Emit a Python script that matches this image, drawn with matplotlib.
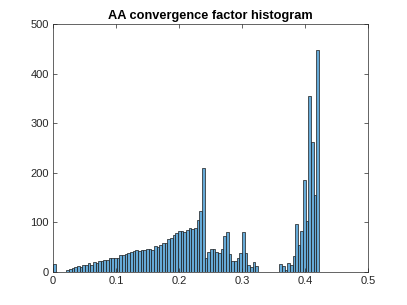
import numpy as np
import matplotlib
matplotlib.use('Agg')
import matplotlib.pyplot as plt

# histogram counts, 100 bins over [0, 0.422]
bin_width = 0.00422
counts = [
    16, 0, 0, 0, 0, 4, 7, 9, 11, 12,
    10, 14, 14, 18, 14, 20, 18, 22, 22, 24,
    24, 28, 28, 29, 28, 34, 34, 36, 38, 40,
    42, 44, 42, 44, 44, 46, 46, 44, 52, 50,
    54, 58, 58, 66, 68, 74, 78, 82, 82, 80,
    84, 88, 86, 88, 104, 124, 210, 28, 40, 46,
    46, 40, 38, 46, 72, 80, 36, 22, 22, 28,
    38, 80, 38, 14, 10, 20, 12, 0, 0, 0,
    0, 0, 0, 0, 0, 17, 13, 5, 19, 15,
    33, 97, 54, 82, 186, 102, 356, 262, 155, 448,
]
edges = np.arange(len(counts) + 1) * bin_width

xticks = [0, 0.1, 0.2, 0.3, 0.4, 0.5]
xticklabels = ['0', '0.1', '0.2', '0.3', '0.4', '0.5']
yticks = [0, 100, 200, 300, 400, 500]

plt.rcParams['font.family'] = ['Liberation Sans', 'DejaVu Sans']

fig = plt.figure(figsize=(4.07, 3.05), dpi=100)
ax = fig.add_axes([0.13, 0.108, 0.775, 0.813])

ax.bar(edges[:-1], counts, width=bin_width, align='edge',
       color=(0.4, 0.668, 0.845), edgecolor='#1a1a1a', linewidth=0.5)

ax.set_xlim(0, 0.5)
ax.set_ylim(0, 500)
ax.set_xticks(xticks)
ax.set_xticklabels(xticklabels)
ax.set_yticks(yticks)
ax.tick_params(direction='in', top=True, right=True, length=3, width=0.5,
               labelsize=8, colors='#262626', pad=3)
for s in ax.spines.values():
    s.set_color('#262626')
    s.set_linewidth(0.5)

ax.set_title('AA convergence factor histogram', fontsize=9.2, fontweight='bold', pad=4)

fig.savefig('out.png', dpi=100)
